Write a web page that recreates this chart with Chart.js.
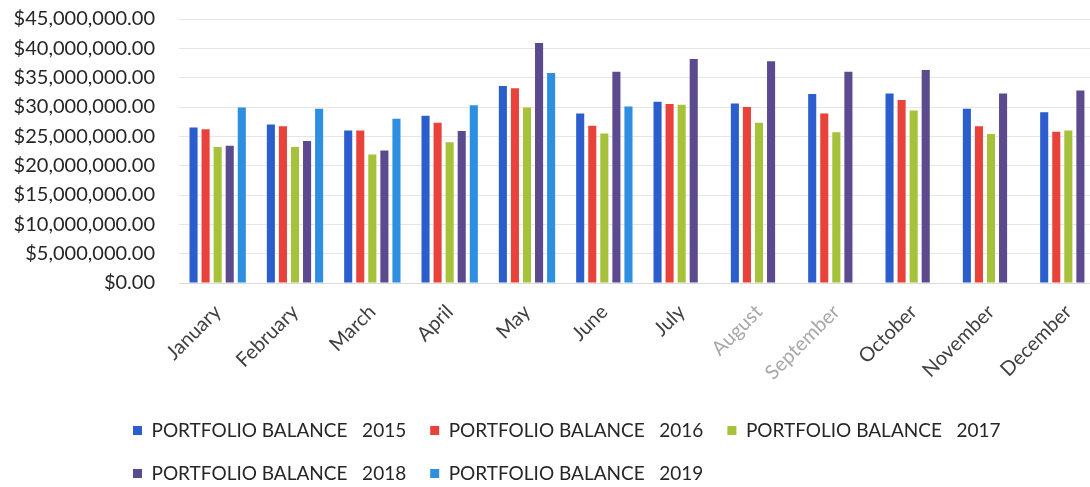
<!DOCTYPE html>
<html>
<head>
<meta charset="utf-8">
<script src="https://cdn.jsdelivr.net/npm/chart.js@4.4.1/dist/chart.umd.min.js"></script>
<style>
  html, body { margin: 0; padding: 0; background: #fff; overflow: hidden; }
  #wrap { width: 1110px; height: 493px; }
</style>
</head>
<body>
<div id="wrap"><canvas id="balanceChart"></canvas></div>
<script>
const months = ["January", "February", "March", "April", "May", "June",
  "July", "August", "September", "October", "November", "December"];

const balance2015 = [26500000, 27000000, 26000000, 28500000, 33600000, 28900000, 30900000, 30600000, 32200000, 32300000, 29700000, 29100000];
const balance2016 = [26200000, 26700000, 26000000, 27300000, 33200000, 26800000, 30500000, 30000000, 28900000, 31200000, 26700000, 25800000];
const balance2017 = [23200000, 23200000, 21900000, 24000000, 29900000, 25500000, 30400000, 27300000, 25700000, 29400000, 25400000, 26000000];
const balance2018 = [23400000, 24200000, 22600000, 25900000, 40900000, 36000000, 38200000, 37800000, 36000000, 36300000, 32300000, 32800000];
const balance2019 = [29900000, 29700000, 28000000, 30300000, 35800000, 30100000, null, null, null, null, null, null];

const seriesLabels = [
  "PORTFOLIO BALANCE   2015",
  "PORTFOLIO BALANCE   2016",
  "PORTFOLIO BALANCE   2017",
  "PORTFOLIO BALANCE   2018",
  "PORTFOLIO BALANCE   2019",
];

const colors = ["#2c5dcd", "#e8423b", "#a5c23a", "#5b4a8e", "#2e8ee0"];
const allSeries = [balance2015, balance2016, balance2017, balance2018, balance2019];

const FONT = "Lato";

// move the legend to the left like the original
const legendShift = {
  id: "legendShift",
  afterLayout(chart) {
    chart.legend.left = 109;
  },
};

const ctx = document.getElementById("balanceChart");

const balanceChart = new Chart(ctx, {
  type: "bar",
  data: {
    labels: months,
    datasets: allSeries.map((d, i) => ({
      label: seriesLabels[i],
      data: d,
      backgroundColor: colors[i],
      borderWidth: 0,
      categoryPercentage: 0.78,
      barPercentage: 0.67,
    })),
  },
  options: {
    responsive: true,
    maintainAspectRatio: false,
    animation: false,
    layout: { padding: { top: 19, left: 0, right: 3, bottom: 0 } },
    scales: {
      x: {
        grid: { display: false, drawTicks: false },
        border: { color: "#d9d9d9" },
        ticks: {
          color: (c) => (c.index === 7 || c.index === 8 ? "#a8a8a8" : "#404040"),
          font: { family: FONT, size: 20 },
          maxRotation: 45,
          minRotation: 45,
          padding: 17,
          autoSkip: false,
        },
        afterFit: (scale) => { scale.height = 114; },
      },
      y: {
        min: 0,
        max: 45000000,
        grid: { color: "#e6e6e6", drawTicks: false },
        border: { display: false },
        ticks: {
          stepSize: 5000000,
          color: "#262626",
          font: { family: FONT, size: 20 },
          padding: 24,
          callback: (v) => "$" + v.toLocaleString("en-US", { minimumFractionDigits: 2, maximumFractionDigits: 2 }),
        },
        afterFit: (scale) => {
          scale.width = 179;
          scale.paddingTop = 0;
          scale.paddingBottom = 0;
        },
      },
    },
    plugins: {
      legend: {
        position: "bottom",
        align: "start",
        labels: {
          color: "#262626",
          boxWidth: 9,
          boxHeight: 9,
          padding: 24,
          font: { family: FONT, size: 19 },
        },
      },
      tooltip: { enabled: false },
    },
  },
  plugins: [legendShift],
});
</script>
</body>
</html>
